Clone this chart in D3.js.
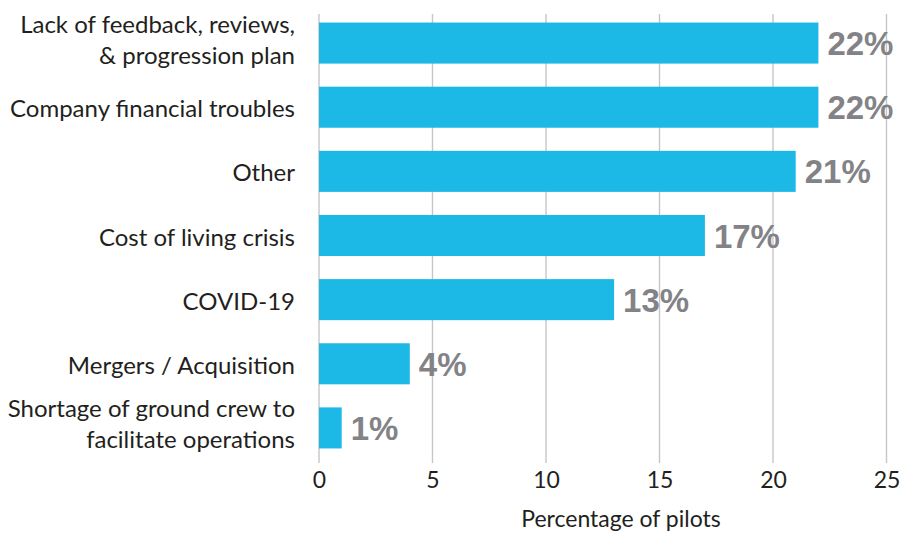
<!DOCTYPE html>
<html>
<head>
<meta charset="utf-8">
<script src="https://cdn.jsdelivr.net/npm/d3@7"></script>
<style>
  body { margin: 0; background: #fff; }
  svg { display: block; }
</style>
</head>
<body>
<svg id="chart"></svg>
<script>
// reasons pilots left
const categories = [
  ["Lack of feedback, reviews,", "& progression plan"],
  ["Company financial troubles"],
  ["Other"],
  ["Cost of living crisis"],
  ["COVID-19"],
  ["Mergers / Acquisition"],
  ["Shortage of ground crew to", "facilitate operations"]
]
const values = [22, 22, 21, 17, 13, 4, 1]
const ticks = [0, 5, 10, 15, 20, 25]
const axisTitle = "Percentage of pilots"

const width = 902, height = 533
const svg = d3.select("#chart").attr("width", width).attr("height", height)

const x = d3.scaleLinear().domain([0, 25]).range([319, 886.5])
const y = d3.scaleBand().domain(d3.range(categories.length))
  .range([11, 460]).paddingInner(0.36).paddingOuter(0.18)

const labelFont = "Lato, 'Noto Sans', sans-serif"

// grid lines
svg.append("g").selectAll("line")
  .data(ticks)
  .enter().append("line")
  .attr("x1", d => x(d)).attr("x2", d => x(d))
  .attr("y1", 14).attr("y2", 463)
  .attr("stroke", "#c6c6c6")
  .attr("stroke-width", 1.4)

// bars
svg.append("g").selectAll("rect")
  .data(values)
  .enter().append("rect")
  .attr("x", x(0))
  .attr("y", (d, i) => y(i))
  .attr("width", d => x(d) - x(0))
  .attr("height", y.bandwidth())
  .attr("fill", "#1cb8e6")

// value labels
svg.append("g").selectAll("text")
  .data(values)
  .enter().append("text")
  .attr("x", d => x(d) + 9)
  .attr("y", (d, i) => y(i) + y.bandwidth() / 2 + 12)
  .attr("font-family", "'Liberation Sans', Arial, sans-serif")
  .attr("font-weight", "bold")
  .attr("font-size", 33)
  .attr("fill", "#838387")
  .text(d => d + "%")

// category labels
const cat = svg.append("g").selectAll("text")
  .data(categories)
  .enter().append("text")
  .attr("text-anchor", "end")
  .attr("font-family", labelFont)
  .attr("font-size", 24)
  .attr("fill", "#231f20")

cat.each(function (lines, i) {
  const cy = y(i) + y.bandwidth() / 2
  const lh = 31
  const t = d3.select(this)
  const shift = lines.length > 1 ? 5 : 10
  lines.forEach((ln, k) => {
    t.append("tspan")
      .attr("x", 295)
      .attr("y", cy + shift + (k - (lines.length - 1) / 2) * lh)
      .text(ln)
  })
})

// x axis labels
const xAxis = d3.axisBottom(x).tickValues(ticks).tickSize(0).tickPadding(9)
const gx = svg.append("g").attr("transform", "translate(0,463)").call(xAxis)
gx.select(".domain").remove()
gx.selectAll("text")
  .attr("font-family", labelFont)
  .attr("font-size", 23)
  .attr("fill", "#231f20")

svg.append("text")
  .attr("x", 621)
  .attr("y", 527)
  .attr("text-anchor", "middle")
  .attr("font-family", labelFont)
  .attr("font-size", 23)
  .attr("fill", "#231f20")
  .text(axisTitle)
</script>
</body>
</html>
